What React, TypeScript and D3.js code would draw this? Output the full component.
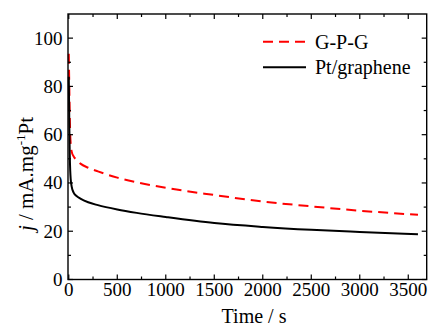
import * as d3 from "d3";
import { useEffect, useRef } from "react";

// chronoamperometry, time in s
const time = [0, 3, 6, 10, 15, 20, 30, 50, 80, 120, 200, 300, 500, 700, 1000, 1500, 2000, 2500, 3000, 3600];
const gpg = [93.5, 86, 78, 68, 60, 56, 53, 51, 49.5, 48, 46.3, 44.8, 42.2, 40.3, 38, 35, 32.3, 30.3, 28.5, 26.8];
const ptGraphene = [84, 74, 63, 52, 45, 41.5, 38.5, 36, 34.6, 33.5, 32, 30.8, 29, 27.6, 25.9, 23.4, 21.8, 20.6, 19.7, 18.7];

const xTicks = [0, 500, 1000, 1500, 2000, 2500, 3000, 3500];
const yTicks = [0, 20, 40, 60, 80, 100];

const series = [
  { name: "G-P-G", values: gpg, color: "#ff0000", dash: "10,6" },
  { name: "Pt/graphene", values: ptGraphene, color: "#000000", dash: null },
];

const W = 428;
const H = 328;
const FONT = "'Times New Roman', Tinos, 'Liberation Serif', 'DejaVu Serif', serif";

export default function App() {
  const ref = useRef<SVGSVGElement | null>(null);

  useEffect(() => {
    const svg = d3.select(ref.current);
    svg.selectAll("*").remove();

    const left = 68, right = 426.7, top = 14, bottom = 279.5;

    const x = d3.scaleLinear().domain([-8, 3690]).range([left, right]);
    const y = d3.scaleLinear().domain([0, 110]).range([bottom, top]);

    // data lines
    const line = d3.line<number>()
      .x((_, i) => x(time[i]))
      .y(d => y(d))
      .curve(d3.curveMonotoneX);

    const g = svg.append("g");
    g.selectAll("path.series")
      .data(series)
      .enter()
      .append("path")
      .attr("class", "series")
      .attr("d", d => line(d.values))
      .attr("fill", "none")
      .attr("stroke", d => d.color)
      .attr("stroke-width", 2)
      .attr("stroke-dasharray", d => d.dash ?? null);

    // frame
    svg.append("rect")
      .attr("x", left).attr("y", top)
      .attr("width", right - left).attr("height", bottom - top)
      .attr("fill", "none").attr("stroke", "#000").attr("stroke-width", 1.4);

    // ticks, all pointing inwards
    const minorX = d3.range(250, 3690, 500);
    const minorY = d3.range(10, 110, 20);
    const ticks = svg.append("g").attr("stroke", "#000").attr("stroke-width", 1.2);
    const addX = (vals: number[], len: number) => {
      vals.forEach(v => {
        ticks.append("line").attr("x1", x(v)).attr("x2", x(v)).attr("y1", bottom).attr("y2", bottom - len);
        ticks.append("line").attr("x1", x(v)).attr("x2", x(v)).attr("y1", top).attr("y2", top + len);
      });
    };
    const addY = (vals: number[], len: number) => {
      vals.forEach(v => {
        ticks.append("line").attr("x1", left).attr("x2", left + len).attr("y1", y(v)).attr("y2", y(v));
        ticks.append("line").attr("x1", right).attr("x2", right - len).attr("y1", y(v)).attr("y2", y(v));
      });
    };
    addX(xTicks, 5);
    addX(minorX, 3);
    addY(yTicks, 5);
    addY(minorY, 3);

    const txt = svg.append("g").style("font-family", FONT).attr("fill", "#000");

    // tick labels
    txt.append("g")
      .selectAll("text")
      .data(xTicks)
      .enter()
      .append("text")
      .attr("x", d => x(d))
      .attr("y", 296)
      .attr("text-anchor", "middle")
      .attr("font-size", 19)
      .text(d => d);

    txt.append("g")
      .selectAll("text")
      .data(yTicks)
      .enter()
      .append("text")
      .attr("x", 62.5)
      .attr("y", d => y(d) + 6.5)
      .attr("text-anchor", "end")
      .attr("font-size", 19)
      .text(d => d);

    // axis titles
    txt.append("text")
      .attr("x", 254)
      .attr("y", 323)
      .attr("text-anchor", "middle")
      .attr("font-size", 20)
      .text("Time / s");

    const yl = txt.append("text")
      .attr("transform", "translate(33,174) rotate(-90)")
      .attr("text-anchor", "middle")
      .attr("font-size", 21);
    yl.append("tspan").attr("font-style", "italic").text("j");
    yl.append("tspan").text(" / mA.mg");
    yl.append("tspan").attr("dy", -8).attr("font-size", 13).text("-1");
    yl.append("tspan").attr("dy", 8).text("Pt");

    // legend
    const legend = txt.append("g");
    series.forEach((s, i) => {
      const ly = 41.7 + i * 25.5;
      legend.append("line")
        .attr("x1", 263).attr("x2", 306)
        .attr("y1", ly).attr("y2", ly)
        .attr("stroke", s.color)
        .attr("stroke-width", 2)
        .attr("stroke-dasharray", s.dash ?? null);
      legend.append("text")
        .attr("x", 315)
        .attr("y", ly + 7)
        .attr("font-size", 20)
        .text(s.name);
    });
  }, []);

  return (
    <svg
      ref={ref}
      width={W}
      height={H}
      style={{ position: "fixed", left: 0, top: 0, background: "#fff" }}
    />
  );
}
